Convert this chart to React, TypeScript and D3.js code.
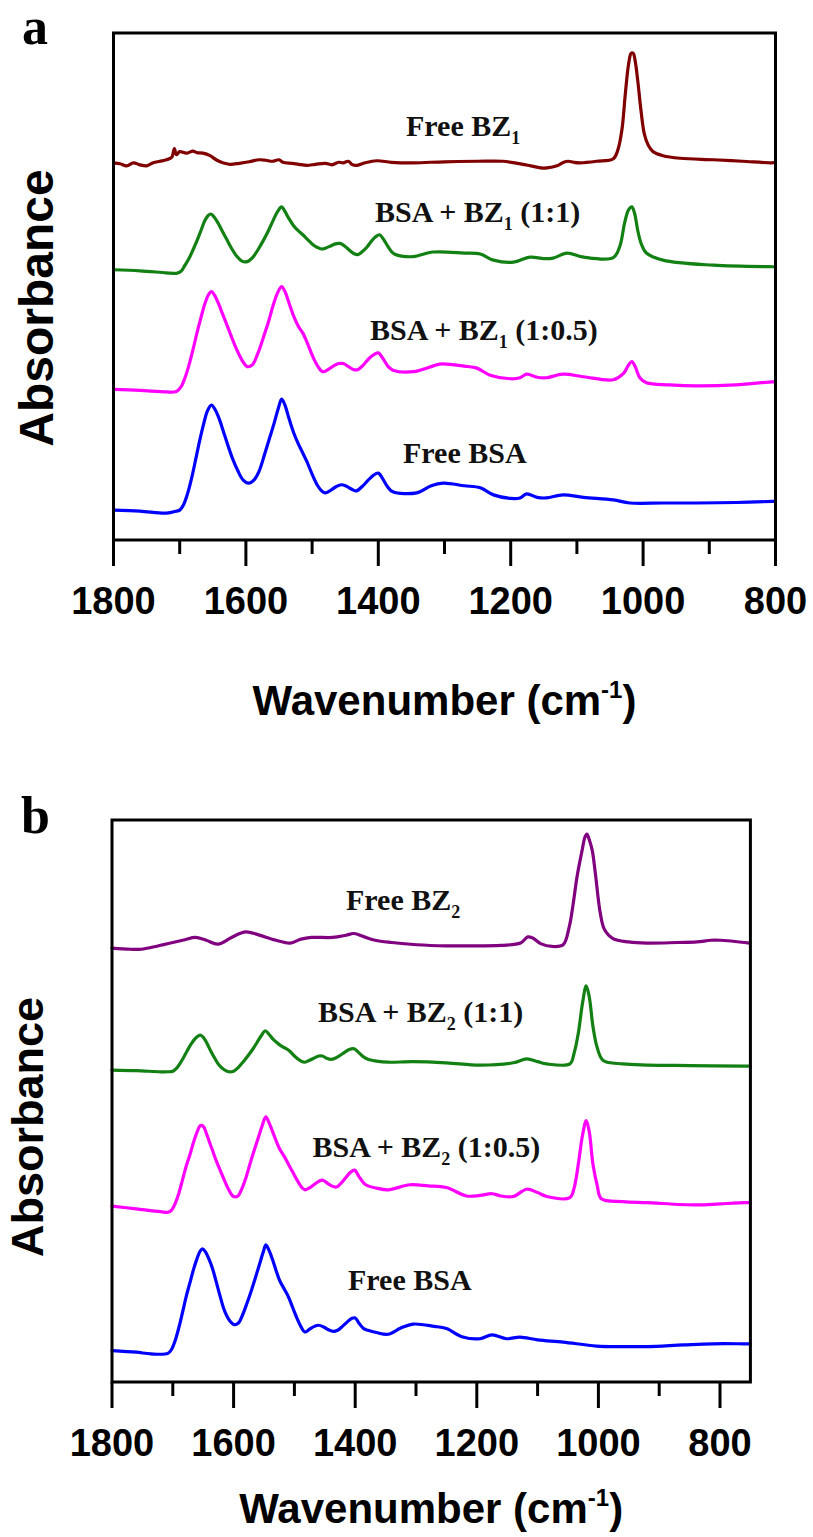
import React from "react";
import * as d3 from "d3";

type Pt = [number, number];

// FTIR spectra, [wavenumber (cm^-1), stacked absorbance (a.u.)]
// Panel a: BSA with BZ1
const freeBZ1: Pt[] = [
  [1800, 7.44], [1790, 7.42], [1780, 7.38], [1770, 7.44], [1760, 7.4], [1750, 7.38], [1740, 7.44],
  [1730, 7.47], [1720, 7.5], [1712, 7.55], [1708, 7.72], [1705, 7.6], [1700, 7.66], [1690, 7.63],
  [1680, 7.67], [1674, 7.64], [1665, 7.63], [1654, 7.58], [1645, 7.5], [1635, 7.44], [1624, 7.41],
  [1610, 7.43], [1595, 7.46], [1580, 7.5], [1570, 7.49], [1560, 7.47], [1550, 7.5], [1544, 7.45],
  [1530, 7.43], [1520, 7.41], [1508, 7.39], [1495, 7.41], [1480, 7.43], [1470, 7.4], [1460, 7.45],
  [1453, 7.44], [1445, 7.47], [1440, 7.41], [1432, 7.39], [1420, 7.44], [1402, 7.48], [1380, 7.45],
  [1347, 7.44], [1300, 7.46], [1250, 7.47], [1212, 7.47], [1190, 7.43], [1170, 7.38], [1155, 7.34],
  [1145, 7.34], [1130, 7.38], [1120, 7.45], [1113, 7.47], [1105, 7.45], [1095, 7.44], [1070, 7.47],
  [1045, 7.52], [1038, 7.7], [1032, 8.09], [1027, 8.78], [1022, 9.38], [1018, 9.6], [1015, 9.6],
  [1012, 9.45], [1008, 9.05], [1003, 8.45], [998, 8.0], [992, 7.78], [985, 7.66], [970, 7.58],
  [944, 7.53], [894, 7.5], [850, 7.47], [805, 7.44], [800, 7.45],
];

const bsaBZ1Ratio1: Pt[] = [
  [1800, 5.33], [1760, 5.31], [1720, 5.27], [1705, 5.26], [1698, 5.3], [1692, 5.42], [1686, 5.55],
  [1680, 5.72], [1674, 5.9], [1668, 6.1], [1662, 6.3], [1657, 6.4], [1653, 6.43], [1648, 6.37],
  [1642, 6.25], [1636, 6.1], [1629, 5.93], [1622, 5.76], [1614, 5.6], [1606, 5.5], [1598, 5.49],
  [1590, 5.57], [1582, 5.72], [1574, 5.9], [1566, 6.1], [1559, 6.3], [1552, 6.48], [1546, 6.57],
  [1541, 6.48], [1535, 6.34], [1528, 6.2], [1521, 6.1], [1514, 6.02], [1507, 5.93], [1500, 5.84],
  [1492, 5.77], [1486, 5.74], [1479, 5.76], [1472, 5.8], [1465, 5.84], [1458, 5.85], [1451, 5.8],
  [1444, 5.72], [1437, 5.65], [1431, 5.63], [1424, 5.69], [1417, 5.78], [1410, 5.9], [1404, 5.98],
  [1398, 6.02], [1392, 5.93], [1386, 5.8], [1380, 5.69], [1374, 5.63], [1365, 5.6], [1347, 5.59],
  [1317, 5.68], [1270, 5.66], [1246, 5.64], [1226, 5.52], [1196, 5.48], [1171, 5.58], [1150, 5.55],
  [1136, 5.56], [1115, 5.66], [1090, 5.58], [1045, 5.57], [1035, 5.8], [1028, 6.25], [1022, 6.51],
  [1017, 6.57], [1013, 6.45], [1008, 6.1], [1003, 5.85], [995, 5.66], [970, 5.52], [894, 5.42],
  [805, 5.39], [800, 5.39],
];

const bsaBZ1Ratio05: Pt[] = [
  [1800, 2.97], [1760, 2.95], [1720, 2.92], [1705, 2.93], [1698, 3.02], [1692, 3.2], [1686, 3.45],
  [1680, 3.75], [1674, 4.08], [1668, 4.38], [1662, 4.66], [1656, 4.85], [1652, 4.9], [1647, 4.82],
  [1641, 4.65], [1635, 4.45], [1628, 4.22], [1621, 3.98], [1614, 3.76], [1606, 3.55], [1598, 3.42],
  [1590, 3.46], [1582, 3.68], [1574, 3.98], [1566, 4.3], [1559, 4.62], [1552, 4.88], [1546, 5.0],
  [1541, 4.9], [1535, 4.68], [1528, 4.42], [1521, 4.22], [1514, 4.08], [1507, 3.88], [1500, 3.65],
  [1492, 3.44], [1484, 3.32], [1476, 3.36], [1468, 3.43], [1460, 3.48], [1453, 3.48], [1445, 3.42],
  [1437, 3.36], [1431, 3.36], [1422, 3.46], [1414, 3.58], [1406, 3.66], [1400, 3.69], [1393, 3.58],
  [1385, 3.42], [1378, 3.35], [1347, 3.32], [1320, 3.42], [1307, 3.47], [1270, 3.43], [1251, 3.39],
  [1231, 3.25], [1200, 3.18], [1186, 3.2], [1176, 3.27], [1160, 3.21], [1146, 3.2], [1121, 3.27],
  [1090, 3.22], [1045, 3.16], [1030, 3.28], [1022, 3.45], [1017, 3.52], [1012, 3.42], [1005, 3.2],
  [995, 3.1], [960, 3.06], [919, 3.04], [860, 3.06], [805, 3.12], [800, 3.12],
];

const freeBSA_a: Pt[] = [
  [1800, 0.59], [1760, 0.57], [1720, 0.53], [1705, 0.57], [1700, 0.59], [1694, 0.7], [1688, 0.92],
  [1682, 1.22], [1676, 1.58], [1670, 1.95], [1664, 2.28], [1658, 2.55], [1652, 2.66], [1646, 2.56],
  [1640, 2.38], [1634, 2.14], [1627, 1.86], [1620, 1.6], [1612, 1.36], [1604, 1.18], [1596, 1.12],
  [1588, 1.18], [1580, 1.36], [1572, 1.68], [1564, 2.02], [1557, 2.32], [1551, 2.6], [1546, 2.78],
  [1541, 2.66], [1535, 2.4], [1528, 2.12], [1521, 1.9], [1515, 1.74], [1508, 1.55], [1500, 1.3],
  [1492, 1.08], [1485, 0.96], [1480, 0.93], [1472, 0.98], [1464, 1.05], [1456, 1.09], [1448, 1.06],
  [1440, 1.0], [1433, 0.97], [1424, 1.06], [1416, 1.17], [1408, 1.27], [1400, 1.32], [1393, 1.2],
  [1386, 1.05], [1378, 0.95], [1342, 0.93], [1320, 1.07], [1302, 1.12], [1270, 1.07], [1246, 1.03],
  [1226, 0.89], [1200, 0.82], [1186, 0.83], [1176, 0.91], [1160, 0.84], [1146, 0.83], [1121, 0.89],
  [1090, 0.84], [1045, 0.79], [1020, 0.73], [970, 0.73], [919, 0.73], [860, 0.74], [805, 0.76],
  [800, 0.76],
];

// Panel b: BSA with BZ2
const freeBZ2: Pt[] = [
  [1800, 7.72], [1770, 7.7], [1752, 7.7], [1728, 7.75], [1700, 7.82], [1680, 7.87], [1663, 7.91],
  [1645, 7.86], [1626, 7.79], [1605, 7.9], [1590, 7.98], [1579, 8.01], [1560, 7.96], [1530, 7.86],
  [1507, 7.81], [1489, 7.88], [1472, 7.91], [1437, 7.91], [1415, 7.95], [1402, 7.98], [1385, 7.92],
  [1367, 7.86], [1340, 7.82], [1299, 7.78], [1250, 7.76], [1214, 7.76], [1160, 7.77], [1128, 7.81],
  [1116, 7.92], [1108, 7.9], [1095, 7.8], [1076, 7.75], [1058, 7.78], [1048, 8.1], [1042, 8.47],
  [1035, 9.0], [1027, 9.45], [1022, 9.7], [1019, 9.75], [1015, 9.65], [1010, 9.45], [1005, 9.05],
  [997, 8.35], [990, 8.05], [976, 7.89], [950, 7.83], [920, 7.81], [870, 7.82], [838, 7.83],
  [815, 7.86], [800, 7.86], [751, 7.81],
];

const bsaBZ2Ratio1: Pt[] = [
  [1800, 5.55], [1760, 5.54], [1720, 5.52], [1708, 5.52], [1700, 5.53], [1694, 5.58], [1688, 5.67],
  [1682, 5.78], [1676, 5.9], [1670, 6.01], [1664, 6.1], [1658, 6.16], [1654, 6.17], [1649, 6.12],
  [1644, 6.03], [1638, 5.9], [1631, 5.76], [1624, 5.64], [1616, 5.56], [1608, 5.52], [1600, 5.53],
  [1592, 5.6], [1584, 5.7], [1576, 5.81], [1568, 5.93], [1561, 6.05], [1554, 6.17], [1548, 6.25],
  [1542, 6.19], [1536, 6.11], [1529, 6.04], [1522, 5.98], [1515, 5.94], [1508, 5.89], [1500, 5.8],
  [1492, 5.73], [1484, 5.69], [1476, 5.72], [1468, 5.76], [1460, 5.8], [1454, 5.8], [1447, 5.76],
  [1440, 5.74], [1433, 5.76], [1425, 5.81], [1417, 5.87], [1409, 5.92], [1402, 5.93], [1395, 5.87],
  [1387, 5.79], [1378, 5.74], [1365, 5.71], [1346, 5.69], [1305, 5.7], [1250, 5.68], [1195, 5.64],
  [1140, 5.68], [1118, 5.75], [1100, 5.7], [1085, 5.66], [1047, 5.66], [1040, 5.85], [1033, 6.21],
  [1026, 6.75], [1020, 7.05], [1015, 6.85], [1009, 6.33], [1002, 5.95], [992, 5.72], [960, 5.66],
  [920, 5.64], [850, 5.63], [759, 5.62], [750, 5.62],
];

const bsaBZ2Ratio05: Pt[] = [
  [1800, 3.13], [1760, 3.08], [1720, 3.03], [1708, 3.02], [1702, 3.06], [1696, 3.18], [1690, 3.36],
  [1684, 3.6], [1678, 3.84], [1672, 4.04], [1666, 4.26], [1660, 4.45], [1655, 4.56], [1650, 4.55],
  [1645, 4.43], [1640, 4.28], [1634, 4.1], [1628, 3.92], [1621, 3.74], [1614, 3.56], [1607, 3.4],
  [1600, 3.3], [1593, 3.31], [1586, 3.45], [1579, 3.66], [1572, 3.92], [1565, 4.16], [1559, 4.36],
  [1553, 4.56], [1547, 4.72], [1542, 4.62], [1536, 4.46], [1530, 4.29], [1524, 4.14], [1517, 4.02],
  [1510, 3.88], [1503, 3.74], [1496, 3.6], [1489, 3.48], [1483, 3.42], [1476, 3.45], [1468, 3.51],
  [1460, 3.57], [1453, 3.59], [1446, 3.54], [1439, 3.49], [1431, 3.47], [1424, 3.53], [1416, 3.63],
  [1408, 3.73], [1401, 3.77], [1394, 3.66], [1386, 3.54], [1379, 3.49], [1365, 3.45], [1346, 3.42],
  [1310, 3.51], [1280, 3.49], [1250, 3.46], [1217, 3.31], [1195, 3.32], [1175, 3.35], [1160, 3.31],
  [1140, 3.3], [1118, 3.43], [1100, 3.37], [1085, 3.3], [1047, 3.28], [1040, 3.45], [1033, 3.88],
  [1026, 4.4], [1020, 4.65], [1015, 4.45], [1009, 3.88], [1002, 3.5], [995, 3.26], [960, 3.21],
  [920, 3.19], [838, 3.15], [800, 3.17], [759, 3.19], [750, 3.19],
];

const freeBSA_b: Pt[] = [
  [1800, 0.56], [1760, 0.53], [1736, 0.5], [1708, 0.51], [1702, 0.58], [1696, 0.74], [1690, 0.97],
  [1684, 1.24], [1678, 1.52], [1672, 1.76], [1666, 2.0], [1660, 2.2], [1655, 2.33], [1651, 2.37],
  [1646, 2.31], [1641, 2.2], [1635, 2.03], [1629, 1.8], [1622, 1.52], [1615, 1.27], [1607, 1.1],
  [1599, 1.02], [1592, 1.05], [1585, 1.2], [1578, 1.4], [1571, 1.62], [1564, 1.86], [1557, 2.11],
  [1551, 2.32], [1547, 2.44], [1542, 2.35], [1536, 2.18], [1530, 1.98], [1524, 1.8], [1517, 1.66],
  [1510, 1.52], [1503, 1.33], [1496, 1.14], [1489, 0.98], [1483, 0.89], [1475, 0.94], [1467, 0.99],
  [1460, 1.01], [1452, 0.98], [1444, 0.93], [1436, 0.9], [1429, 0.92], [1421, 0.99], [1413, 1.07],
  [1406, 1.13], [1400, 1.14], [1394, 1.05], [1386, 0.95], [1379, 0.92], [1365, 0.88], [1346, 0.85],
  [1325, 0.96], [1305, 1.03], [1270, 0.99], [1250, 0.95], [1223, 0.8], [1195, 0.77], [1175, 0.84],
  [1151, 0.77], [1129, 0.8], [1100, 0.75], [1058, 0.71], [1003, 0.64], [960, 0.63], [920, 0.63],
  [860, 0.66], [812, 0.68], [759, 0.68], [750, 0.68],
];

const majorTicks = [1800, 1600, 1400, 1200, 1000, 800];
const minorTicks = [1700, 1500, 1300, 1100, 900];
const domainA: [number, number] = [1800, 800];
const domainB: [number, number] = [1800, 750];
const yDomain: [number, number] = [0, 10];

const SANS = "'Liberation Sans', Arial, Helvetica, sans-serif";
const SERIF = "'Liberation Serif', 'Times New Roman', Times, serif";

type SeriesSpec = {
  data: Pt[];
  color: string;
  pre: string;
  sub?: string;
  post?: string;
  lx: number;
  ly: number;
};

type PanelSpec = {
  letter: string;
  letterX: number;
  letterY: number;
  left: number;
  right: number;
  top: number;
  bottom: number;
  domain: [number, number];
  series: SeriesSpec[];
  yLabelX: number;
  yLabelY: number;
  yLabelSize: number;
  titleGap: number;
};

function Panel({ p }: { p: PanelSpec }) {
  const x = d3.scaleLinear().domain(p.domain).range([p.left, p.right]);
  const y = d3.scaleLinear().domain(yDomain).range([p.bottom, p.top]);
  const line = d3
    .line<Pt>()
    .x((d) => x(d[0]))
    .y((d) => y(d[1]))
    .curve(d3.curveCatmullRom.alpha(0.5));
  const cx = (p.left + p.right) / 2;
  return (
    <g>
      <text x={p.letterX} y={p.letterY} fontFamily={SERIF} fontWeight="bold" fontSize={52}>
        {p.letter}
      </text>
      {p.series.map((s, i) => (
        <path
          key={i}
          d={line(s.data) || ""}
          fill="none"
          stroke={s.color}
          strokeWidth={3.2}
          strokeLinejoin="round"
          strokeLinecap="round"
        />
      ))}
      {p.series.map((s, i) => (
        <text key={"l" + i} x={s.lx} y={s.ly} fontFamily={SERIF} fontWeight="bold" fontSize={30} fill="#111">
          {s.pre}
          {s.sub ? (
            <tspan fontSize={18} dy={8}>
              {s.sub}
            </tspan>
          ) : null}
          {s.post ? <tspan dy={s.sub ? -8 : 0}>{s.post}</tspan> : null}
        </text>
      ))}
      <rect
        x={p.left}
        y={p.top}
        width={p.right - p.left}
        height={p.bottom - p.top}
        fill="none"
        stroke="#000"
        strokeWidth={3}
      />
      {majorTicks.map((t) => (
        <g key={"M" + t}>
          <line x1={x(t)} x2={x(t)} y1={p.bottom} y2={p.bottom + 26} stroke="#000" strokeWidth={3} />
          <text
            x={x(t)}
            y={p.bottom + 74}
            textAnchor="middle"
            fontFamily={SANS}
            fontWeight="bold"
            fontSize={38}
          >
            {t}
          </text>
        </g>
      ))}
      {minorTicks.map((t) => (
        <line key={"m" + t} x1={x(t)} x2={x(t)} y1={p.bottom} y2={p.bottom + 14} stroke="#000" strokeWidth={3} />
      ))}
      <text
        x={cx}
        y={p.bottom + p.titleGap}
        textAnchor="middle"
        fontFamily={SANS}
        fontWeight="bold"
        fontSize={42}
      >
        Wavenumber (cm
        <tspan fontSize={24} dy={-17}>
          -1
        </tspan>
        <tspan dy={17}>)</tspan>
      </text>
      <text
        transform={`translate(${p.yLabelX},${p.yLabelY}) rotate(-90)`}
        textAnchor="middle"
        fontFamily={SANS}
        fontWeight="bold"
        fontSize={p.yLabelSize}
      >
        Absorbance
      </text>
    </g>
  );
}

const panels: PanelSpec[] = [
  {
    letter: "a",
    letterX: 22,
    letterY: 44,
    left: 113.5,
    right: 775.5,
    top: 33,
    bottom: 540,
    domain: domainA,
    yLabelX: 53,
    yLabelY: 308,
    yLabelSize: 48,
    titleGap: 175,
    series: [
      { data: freeBZ1, color: "#800000", pre: "Free BZ", sub: "1", lx: 406, ly: 135.5 },
      { data: bsaBZ1Ratio1, color: "#138013", pre: "BSA + BZ", sub: "1", post: " (1:1)", lx: 375, ly: 222 },
      { data: bsaBZ1Ratio05, color: "#ff00ff", pre: "BSA + BZ", sub: "1", post: " (1:0.5)", lx: 370, ly: 340 },
      { data: freeBSA_a, color: "#0000ff", pre: "Free BSA", lx: 403, ly: 463 },
    ],
  },
  {
    letter: "b",
    letterX: 21,
    letterY: 833,
    left: 112,
    right: 750.4,
    top: 820,
    bottom: 1382,
    domain: domainB,
    yLabelX: 43,
    yLabelY: 1127,
    yLabelSize: 45,
    titleGap: 141,
    series: [
      { data: freeBZ2, color: "#800080", pre: "Free BZ", sub: "2", lx: 346, ly: 910 },
      { data: bsaBZ2Ratio1, color: "#138013", pre: "BSA + BZ", sub: "2", post: " (1:1)", lx: 318, ly: 1022 },
      { data: bsaBZ2Ratio05, color: "#ff00ff", pre: "BSA + BZ", sub: "2", post: " (1:0.5)", lx: 312.5, ly: 1157 },
      { data: freeBSA_b, color: "#0000ff", pre: "Free BSA", lx: 348, ly: 1290 },
    ],
  },
];

export default function App() {
  return (
    <svg
      width={813}
      height={1537}
      viewBox="0 0 813 1537"
      style={{ position: "absolute", left: 0, top: 0, background: "#fff" }}
    >
      <rect x={0} y={0} width={813} height={1537} fill="#fff" />
      {panels.map((p) => (
        <Panel key={p.letter} p={p} />
      ))}
    </svg>
  );
}
